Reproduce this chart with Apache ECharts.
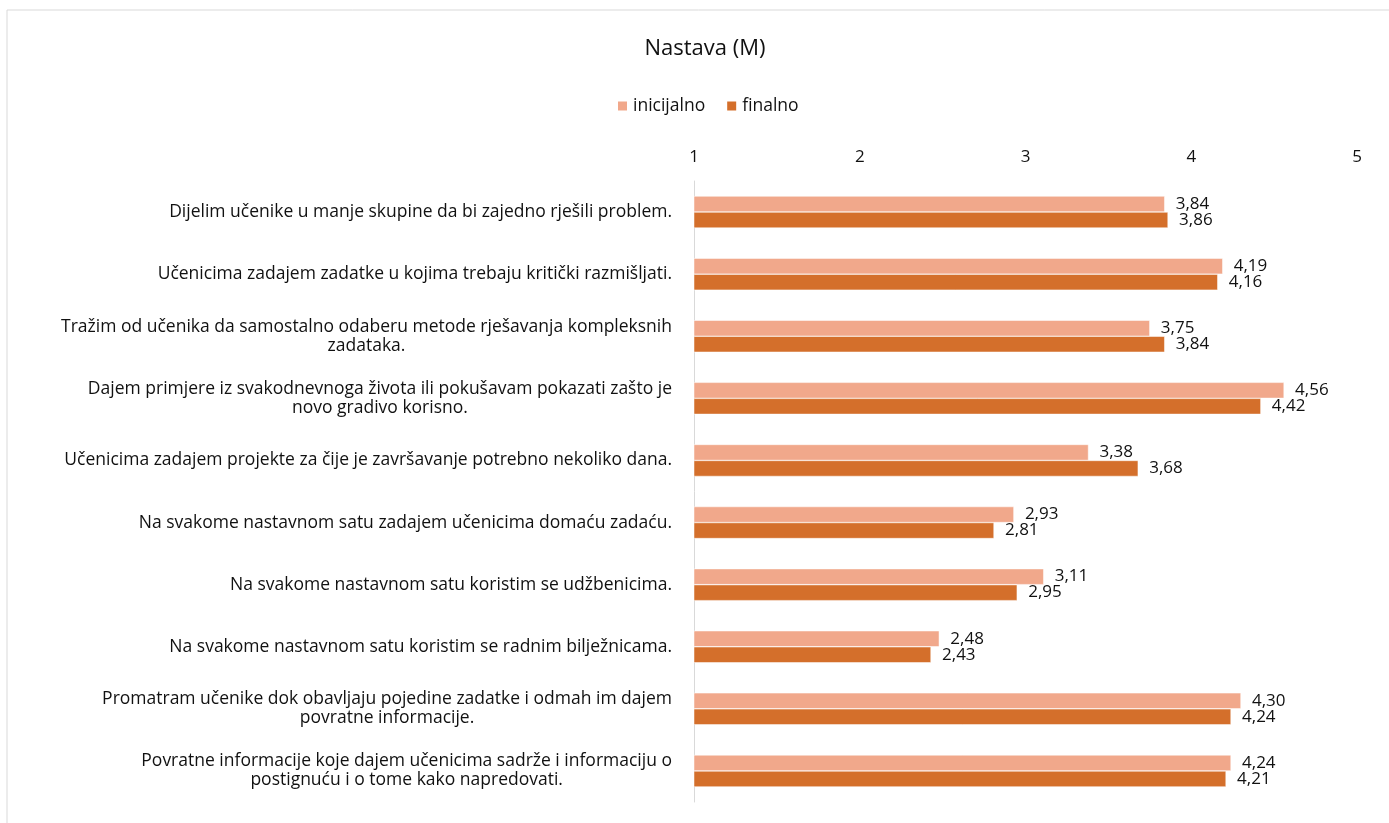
<!DOCTYPE html>
<html>
<head>
<meta charset="utf-8">
<title>Nastava (M)</title>
<script src="https://cdn.jsdelivr.net/npm/echarts@6/dist/echarts.min.js"></script>
<style>
  html, body { margin: 0; padding: 0; background: #fff; }
  #chart { width: 1389px; height: 823px; }
</style>
</head>
<body>
<div id="chart"></div>
<script>
// 类别（从上到下）
const categories = [
  'Dijelim učenike u manje skupine da bi zajedno rješili problem.',
  'Učenicima zadajem zadatke u kojima trebaju kritički razmišljati.',
  'Tražim od učenika da samostalno odaberu metode rješavanja kompleksnih\nzadataka.',
  'Dajem primjere iz svakodnevnoga života ili pokušavam pokazati zašto je\nnovo gradivo korisno.',
  'Učenicima zadajem projekte za čije je završavanje potrebno nekoliko dana.',
  'Na svakome nastavnom satu zadajem učenicima domaću zadaću.',
  'Na svakome nastavnom satu koristim se udžbenicima.',
  'Na svakome nastavnom satu koristim se radnim bilježnicama.',
  'Promatram učenike dok obavljaju pojedine zadatke i odmah im dajem\npovratne informacije.',
  'Povratne informacije koje dajem učenicima sadrže i informaciju o\npostignuću i o tome kako napredovati.'
];

// 系列数据
const inicijalno = [3.84, 4.19, 3.75, 4.56, 3.38, 2.93, 3.11, 2.48, 4.30, 4.24];
const finalno = [3.86, 4.16, 3.84, 4.42, 3.68, 2.81, 2.95, 2.43, 4.24, 4.21];

const FONT = '"Open Sans", "Noto Sans", sans-serif';
const FS = 17;

/**
 * 数值格式化（逗号小数点）
 */
function fmt(v) {
  return v.toFixed(2).replace('.', ',');
}

const chart = echarts.init(document.getElementById('chart'));

const barLabel = {
  show: true,
  position: 'right',
  distance: 11,
  color: '#111',
  fontFamily: FONT,
  fontSize: FS,
  formatter: p => fmt(p.value)
};

chart.setOption({
  animation: false,
  textStyle: { fontFamily: FONT },
  graphic: [{
    type: 'rect',
    shape: { x: 7, y: 10, width: 1400, height: 830 },
    style: { fill: 'none', stroke: '#d9d9d9', lineWidth: 1 },
    silent: true
  }],
  title: {
    text: 'Nastava (M)',
    left: 700,
    top: 33,
    textAlign: 'center',
    textStyle: { fontFamily: FONT, fontSize: 22, fontWeight: 'normal', color: '#111' }
  },
  legend: {
    left: 611,
    top: 92,
    icon: 'rect',
    itemWidth: 11,
    itemHeight: 11,
    itemGap: 20,
    textStyle: { fontFamily: FONT, fontSize: 17.5, color: '#111' },
    data: ['inicijalno', 'finalno']
  },
  grid: {
    left: 694,
    right: 32,
    top: 181,
    bottom: 21,
    containLabel: false
  },
  xAxis: {
    type: 'value',
    position: 'top',
    min: 1,
    max: 5,
    interval: 1,
    axisLine: { show: false },
    axisTick: { show: false },
    splitLine: { show: false },
    axisLabel: {
      margin: 15,
      color: '#111',
      fontFamily: FONT,
      fontSize: FS
    }
  },
  yAxis: {
    type: 'category',
    inverse: true,
    data: categories,
    axisLine: { show: true, lineStyle: { color: '#d9d9d9', width: 1 } },
    axisTick: { show: false },
    axisLabel: {
      margin: 22,
      color: '#111',
      fontFamily: FONT,
      fontSize: 17.5,
      lineHeight: 19,
      formatter: v => '{a|' + v + '}',
      rich: {
        a: { align: 'center', fontFamily: FONT, fontSize: 17.5, lineHeight: 19, color: '#111' }
      }
    }
  },
  series: [
    {
      name: 'inicijalno',
      type: 'bar',
      data: inicijalno,
      barWidth: 16,
      barGap: '0%',
      itemStyle: { color: '#F1A88B', borderColor: '#fff', borderWidth: 0.5 },
      label: barLabel
    },
    {
      name: 'finalno',
      type: 'bar',
      data: finalno,
      barWidth: 16,
      barGap: '0%',
      itemStyle: { color: '#D46F2B', borderColor: '#fff', borderWidth: 0.5 },
      label: barLabel
    }
  ]
});

window.addEventListener('resize', () => {
  chart.resize();
});
</script>
</body>
</html>
